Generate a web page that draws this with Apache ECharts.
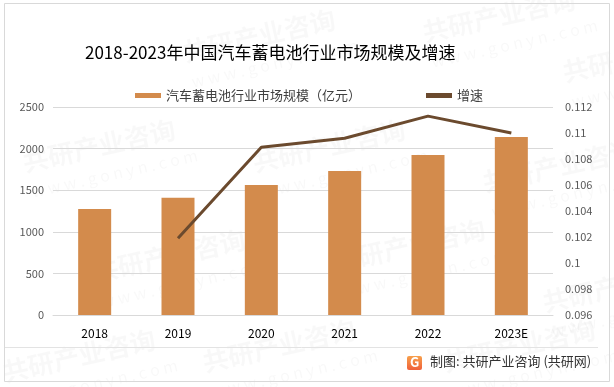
<!DOCTYPE html>
<html>
<head>
<meta charset="utf-8">
<script src="https://cdn.jsdelivr.net/npm/echarts@6/dist/echarts.min.js"></script>
<style>
html,body{margin:0;padding:0;background:#fff;}
#c{width:614px;height:387px;}
</style>
</head>
<body>
<div id="c"></div>
<script>
const categories = ['2018', '2019', '2020', '2021', '2022', '2023E'];
const marketSize = [1275, 1410, 1562, 1731, 1923, 2139];
const growth = ['-', 0.1019, 0.1089, 0.1096, 0.1113, 0.1100];
const growthLabelIndex = 4;
const growthLabelText = '11.13%';
const title = '2018-2023年中国汽车蓄电池行业市场规模及增速';
const barName = '汽车蓄电池行业市场规模（亿元）';
const lineName = '增速';
const footer = '制图: 共研产业咨询 (共研网)';

const FONT = '"Noto Sans CJK SC", "Noto Sans", sans-serif';
const chart = echarts.init(document.getElementById('c'), null, {renderer: 'canvas'});

const wm = [];
const wmPos = [[180,40],[420,20],[560,60],[20,150],[250,150],[480,170],[90,260],[330,250],[540,290],[200,350],[440,350],[0,360]];
wmPos.forEach(p => {
  wm.push({type: 'text', x: p[0], y: p[1], rotation: 0.22, z: -1, silent: true,
    style: {text: '共研产业咨询', fill: 'rgba(0,0,0,0.028)', font: 'bold 26px ' + FONT}});
  wm.push({type: 'text', x: p[0] + 10, y: p[1] + 34, rotation: 0.22, z: -1, silent: true,
    style: {text: 'w w w . g o n y n . c o m', fill: 'rgba(0,0,0,0.028)', font: '16px ' + FONT}});
});

const growthData = growth.map((v, i) => i === growthLabelIndex ? {
  value: v,
  label: {show: true, position: 'right', distance: 10, formatter: growthLabelText,
    color: '#595959', fontSize: 11, fontFamily: FONT}
} : v);

chart.setOption({
  animation: false,
  backgroundColor: '#fff',
  textStyle: {fontFamily: FONT},
  title: {
    text: title, left: 80, top: 39,
    textStyle: {fontSize: 17, fontWeight: 'normal', color: '#000', fontFamily: FONT}
  },
  legend: {
    top: 84, left: 130, itemGap: 65,
    textStyle: {fontSize: 13, color: '#404040', fontFamily: FONT},
    data: [
      {name: barName, icon: 'rect', itemWidth: 26, itemHeight: 5},
      {name: lineName, icon: 'rect', itemWidth: 28, itemHeight: 3}
    ],
    itemWidth: 26, itemHeight: 5
  },
  grid: {left: 53, right: 61, top: 107, bottom: 72, containLabel: false},
  xAxis: {
    type: 'category', data: categories,
    axisLine: {lineStyle: {color: '#d9d9d9'}},
    axisTick: {show: false},
    axisLabel: {color: '#000', fontSize: 12, margin: 12, fontFamily: FONT}
  },
  yAxis: [
    {
      type: 'value', min: 0, max: 2500, interval: 500,
      axisLine: {show: false}, axisTick: {show: false},
      axisLabel: {color: '#595959', fontSize: 11, margin: 9, fontFamily: FONT,
        formatter: v => String(v)},
      splitLine: {lineStyle: {color: '#d9d9d9'}}
    },
    {
      type: 'value', min: 0.096, max: 0.112, interval: 0.002,
      axisLine: {show: false}, axisTick: {show: false},
      axisLabel: {color: '#595959', fontSize: 11, margin: 12, fontFamily: FONT,
        formatter: v => String(parseFloat(v.toFixed(3)))},
      splitLine: {show: false}
    }
  ],
  series: [
    {
      name: barName, type: 'bar', data: marketSize, barWidth: 33,
      itemStyle: {color: '#d38b4c'}
    },
    {
      name: lineName, type: 'line', yAxisIndex: 1, data: growthData,
      symbol: 'none', lineStyle: {color: '#6b4a2e', width: 3},
      itemStyle: {color: '#6b4a2e'}
    }
  ],
  graphic: wm.concat([
    {type: 'rect', shape: {x: 4.5, y: 3.5, width: 605, height: 378}, silent: true,
      style: {fill: 'none', stroke: '#d9d9d9', lineWidth: 1}},
    {type: 'line', shape: {x1: 5, y1: 347.5, x2: 598, y2: 347.5}, silent: true,
      style: {stroke: '#e3e3e3', lineWidth: 1}},
    {type: 'rect', shape: {x: 407, y: 356, width: 15, height: 14, r: 2}, silent: true,
      style: {fill: new echarts.graphic.LinearGradient(0, 0, 0, 1, [{offset: 0, color: '#f7a04b'}, {offset: 1, color: '#f0603a'}])}},
    {type: 'text', x: 410, y: 356, silent: true,
      style: {text: 'G', fill: '#fff', font: 'bold 13px ' + FONT}},
    {type: 'text', x: 430, y: 355, silent: true,
      style: {text: footer, fill: '#333', font: '13px ' + FONT}}
  ])
});
</script>
</body>
</html>
